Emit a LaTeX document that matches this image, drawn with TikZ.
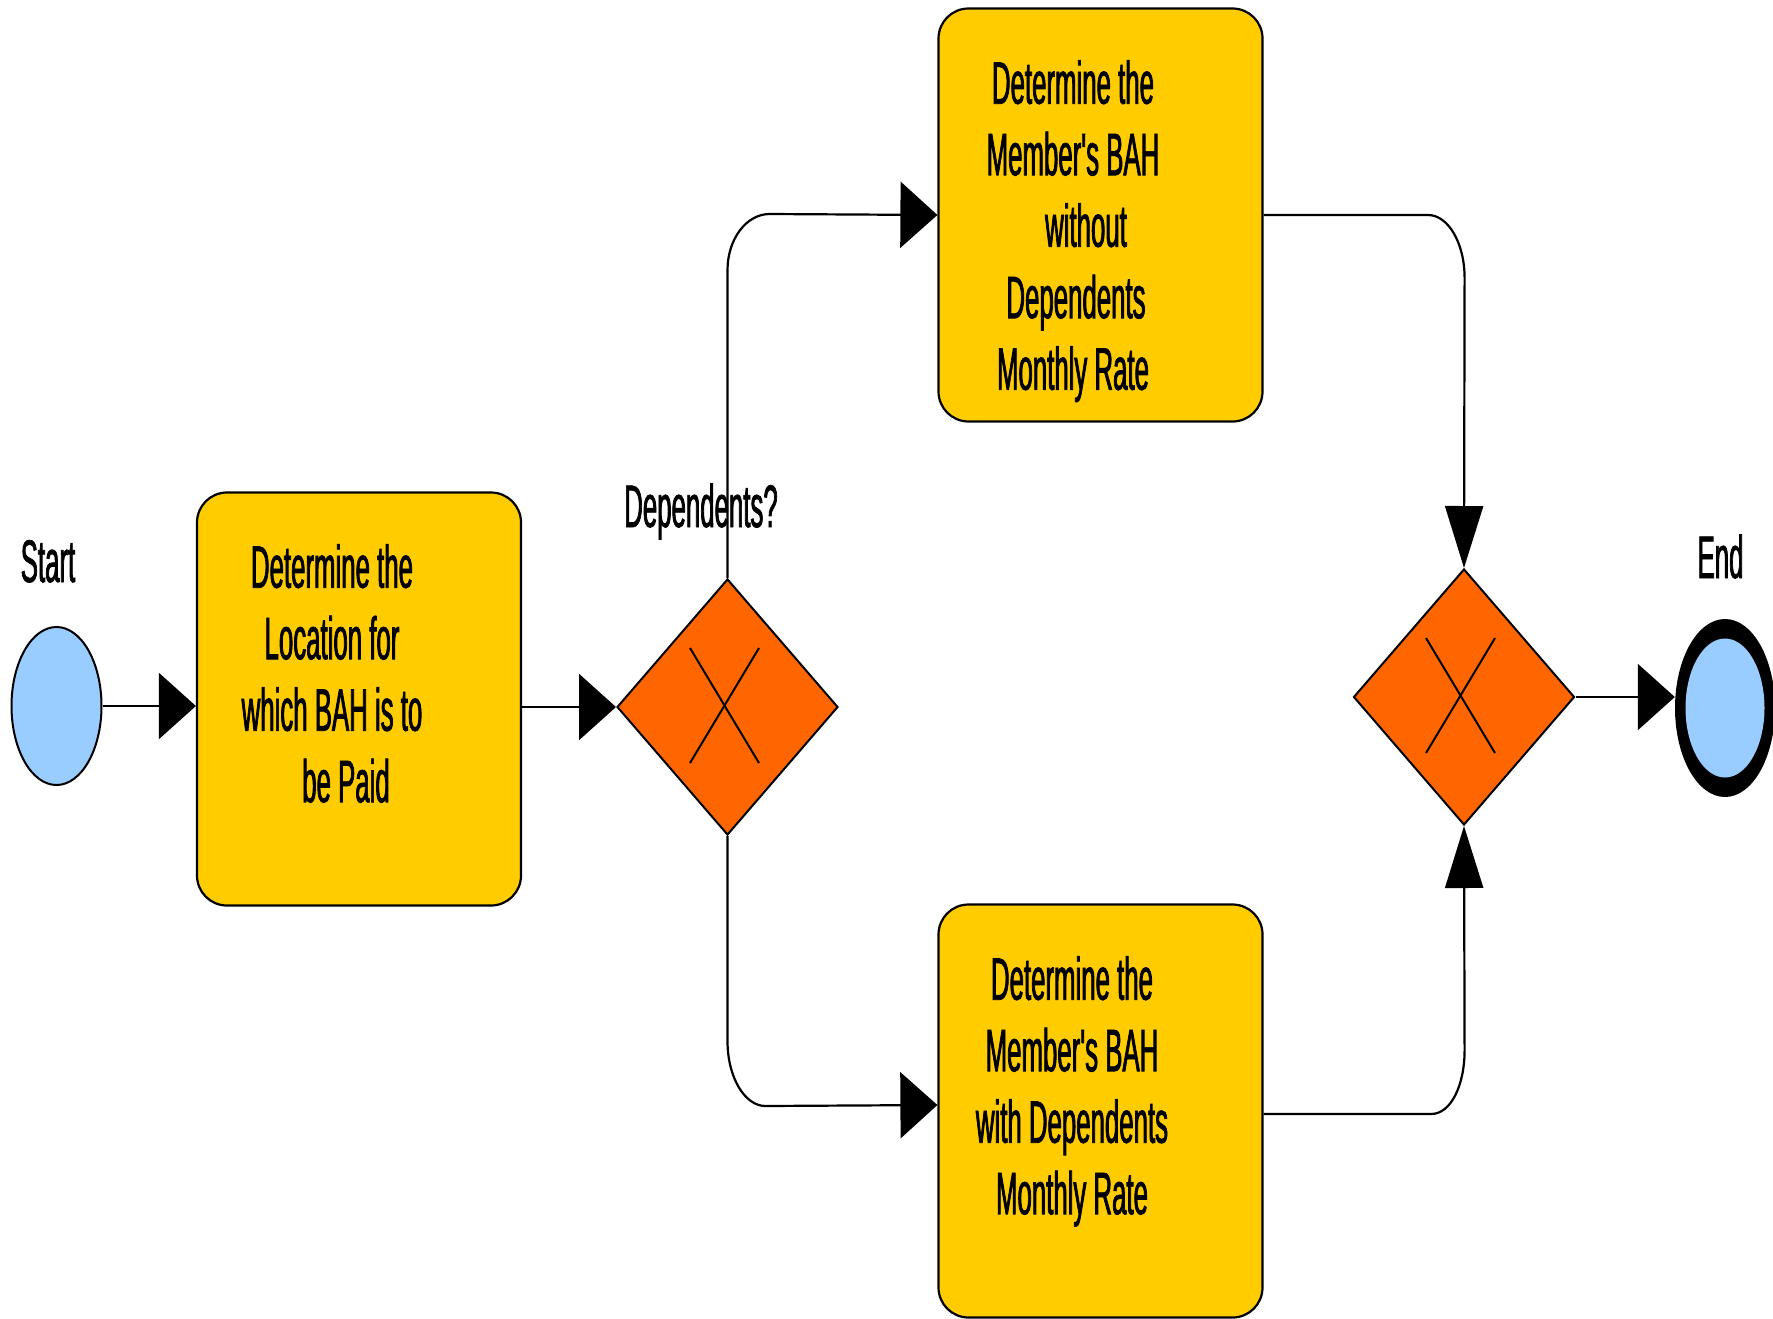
\documentclass[tikz,border=0pt]{standalone}
\usepackage{fontspec}
\newfontfamily\cond[FakeStretch=0.43,FakeBold=1.2]{Liberation Sans}
\usetikzlibrary{arrows.meta,shapes.geometric}
\definecolor{boxy}{HTML}{FFCC00}
\definecolor{gwo}{HTML}{FF6600}
\definecolor{evb}{HTML}{99CCFF}
\begin{document}
\begin{tikzpicture}[x=1pt,y=-1pt,
 taskbox/.style={draw=black,line width=2.2pt,fill=boxy,rounded corners=30pt,minimum width=324pt,minimum height=413pt,inner sep=0pt},
 gw/.style={diamond,draw=black,line width=2pt,fill=gwo,minimum width=221pt,minimum height=256pt,inner sep=0pt},
 txt/.style={font=\cond\fontsize{60}{71.5}\selectfont,align=center,inner sep=0pt,anchor=north},
 lbl/.style={font=\cond\fontsize{60}{72}\selectfont,inner sep=0pt,anchor=base},
 conn/.style={line width=2.2pt},
 harrow/.style={conn,-{Triangle[length=37pt,width=66pt]}},
 varrow/.style={conn,-{Triangle[length=62pt,width=38pt]}},
 xmark/.style={line width=2pt}]
\useasboundingbox (0,0) rectangle (1773,1318);

% start event
\node[ellipse,draw=black,line width=2pt,fill=evb,minimum width=90pt,minimum height=158pt,inner sep=0pt] (s) at (56.5,706) {};
\node[lbl] (slbl) at (48,582) {Start};

% task 1
\node[taskbox] (b1) at (359,699) {};
\node[txt] (t1) at (332,544) {Determine the\\Location for\\which BAH is to\\\hspace*{28pt}be Paid};

% gateway 1
\node[gw] (g1) at (727.5,707) {};
\draw[xmark] ([shift={(-37.5,-59)}]g1.center) -- ++(69,115);
\draw[xmark] ([shift={(31.5,-59)}]g1.center) -- ++(-69,115);
\node[lbl] (dlbl) at (701,527) {Dependents?};

% task 2 (top)
\node[taskbox] (b2) at (1100.5,215) {};
\node[txt] (t2) at (1073,60) {Determine the\\Member's BAH\\\hspace*{26pt}without\\\hspace*{6pt}Dependents\\Monthly Rate};

% task 3 (bottom)
\node[taskbox] (b3) at (1100.5,1111) {};
\node[txt] (t3) at (1072,956) {Determine the\\Member's BAH\\with Dependents\\Monthly Rate};

% gateway 2
\node[gw] (g2) at (1464,697) {};
\draw[xmark] ([shift={(-38,-59)}]g2.center) -- ++(69,115);
\draw[xmark] ([shift={(31,-59)}]g2.center) -- ++(-69,115);

% end event
\node[ellipse,fill=black,minimum width=100pt,minimum height=178pt,inner sep=0pt] (e) at (1725,708) {};
\node[ellipse,fill=evb,minimum width=79pt,minimum height=139pt,inner sep=0pt] (ein) at (e.center) {};
\node[lbl] (elbl) at (1720.5,578) {End};

% connectors
\draw[harrow] (s.east) -- (s.east -| b1.west);
\draw[harrow] (b1.east |- g1.west) -- (g1.west);
\draw[harrow] (g1.north) -- ++(0,-308) .. controls +(0,-31) and +(-23,0) .. ++(42,-56) -- (b2.west);
\draw[harrow] (g1.south) -- ++(0,205) .. controls +(0,36) and +(-21,0) .. ++(38,65) -- ([yshift=6pt]b3.west);
\draw[varrow] (b2.east) -- ++(164.5,0) .. controls +(20,0) and +(0,-35) .. ++(36.5,63) -- (g2.north);
\draw[varrow] ([yshift=-3pt]b3.east) -- ++(167.5,0) .. controls +(20,0) and +(0,35) .. ++(33.5,-64) -- (g2.south);
\draw[harrow] (g2.east) -- (g2.east -| e.west);
\end{tikzpicture}
\end{document}
